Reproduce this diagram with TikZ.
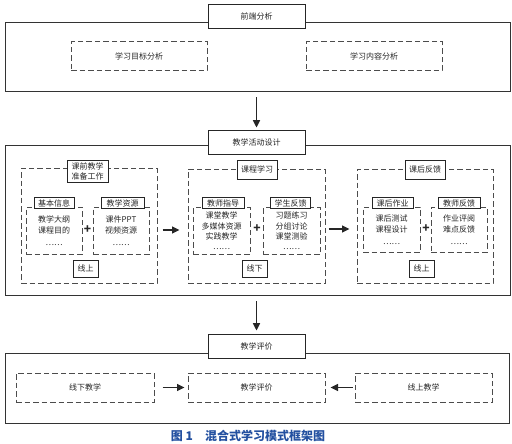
\documentclass[tikz,border=0pt]{standalone}
\usepackage{fontspec}
\setmainfont{Noto Sans CJK SC}
\usetikzlibrary{arrows.meta}

\tikzset{
    frame/.style={draw=black!80, line width=0.8pt, minimum width=505pt},
    tag/.style={draw=black!85, fill=white, line width=0.8pt, inner sep=1pt, align=center},
    dashbox/.style={draw=black!70, line width=1pt, dash pattern=on 5.5pt off 3pt, align=center, inner sep=1pt},
    flow/.style={-{Triangle[length=7.5pt,width=7pt]}, line width=1.6pt, black!85},
    plus/.style={font=\bfseries\fontsize{12}{12}\selectfont, inner sep=0pt},
}
\definecolor{captionblue}{RGB}{35,80,160}

\begin{document}
\begin{tikzpicture}[x=1pt, y=-1pt, font=\fontsize{8}{11.5}\selectfont, text=black!85]
    \useasboundingbox (0,0) rectangle (512,444);

    % front-end analysis
    \node[frame, minimum height=69pt] (front) at (257.5,56.5) {};
    \node[tag, minimum width=97pt, minimum height=24pt] (fronttag) at (256.5,16) {前端分析};
    \node[dashbox, minimum width=136pt, minimum height=29pt] (goal) at (139,56.5) {学习目标分析};
    \node[dashbox, minimum width=136pt, minimum height=29pt] (content) at (374,56.5) {学习内容分析};

    % teaching activity design
    \node[frame, minimum height=150pt] (design) at (257.5,220) {};
    \node[tag, minimum width=97pt, minimum height=24pt] (designtag) at (256.5,142) {教学活动设计};
    \draw[flow, shorten <=6pt, shorten >=2pt] (front.south -| designtag.north) -- (designtag.north);

    % group 1: preparation before class
    \node[dashbox, minimum width=136pt, minimum height=115pt] (pre) at (89,225.5) {};
    \node[tag, minimum width=41pt, minimum height=22pt, font=\fontsize{8}{10}\selectfont] (pretag) at (87.5,171) {课前教学\\准备工作};
    \node[dashbox, minimum width=56pt, minimum height=47pt] (basic) at (54,230.5) {教学大纲\\课程目的\\……};
    \node[tag, minimum width=40pt, minimum height=11pt] (basictag) at (54,203) {基本信息};
    \node[dashbox, minimum width=56pt, minimum height=47pt] (res) at (121,230.5) {课件PPT\\视频资源\\……};
    \node[tag, minimum width=43pt, minimum height=11pt] (restag) at (122.5,203) {教学资源};
    \node[plus] (plus1) at (87.5,230) {+};
    \node[tag, minimum width=25pt, minimum height=17pt] (pretype) at (85.5,268.5) {线上};

    % group 2: course learning
    \node[dashbox, minimum width=137pt, minimum height=114pt] (learn) at (256.5,226) {};
    \node[tag, minimum width=40pt, minimum height=19pt] (learntag) at (257,169.5) {课程学习};
    \node[dashbox, minimum width=57pt, minimum height=47pt, font=\fontsize{8}{10.3}\selectfont] (guide) at (221.5,231) {课堂教学\\多媒体资源\\实践教学\\……};
    \node[tag, minimum width=42pt, minimum height=11pt] (guidetag) at (223,203) {教师指导};
    \node[dashbox, minimum width=57pt, minimum height=47pt, font=\fontsize{8}{10.3}\selectfont] (stufb) at (291.5,231) {习题练习\\分组讨论\\课堂测验\\……};
    \node[tag, minimum width=40pt, minimum height=11pt] (stufbtag) at (290.5,203) {学生反馈};
    \node[plus] (plus2) at (257,229) {+};
    \node[tag, minimum width=25pt, minimum height=17pt] (learntype) at (254.5,268.5) {线下};

    % group 3: feedback after class
    \node[dashbox, minimum width=136pt, minimum height=114pt] (post) at (425,226) {};
    \node[tag, minimum width=40pt, minimum height=19pt] (posttag) at (425,169.5) {课后反馈};
    \node[dashbox, minimum width=57pt, minimum height=45pt] (work) at (391.5,229.5) {课后测试\\课程设计\\……};
    \node[tag, minimum width=41pt, minimum height=11pt] (worktag) at (392.5,203) {课后作业};
    \node[dashbox, minimum width=56pt, minimum height=45pt] (teafb) at (459,229.5) {作业评阅\\难点反馈\\……};
    \node[tag, minimum width=42pt, minimum height=11pt] (teafbtag) at (459,203) {教师反馈};
    \node[plus] (plus3) at (426,229) {+};
    \node[tag, minimum width=25pt, minimum height=17pt] (posttype) at (421.5,268.5) {线上};

    \draw[flow, shorten <=5pt, shorten >=8pt] (pre.east |- plus1) -- (learn.west |- plus1);
    \draw[flow, shorten <=3pt, shorten >=7pt] (learn.east |- plus2) -- (post.west |- plus2);

    % teaching evaluation
    \node[frame, minimum width=504pt, minimum height=70pt] (eval) at (257,388) {};
    \node[tag, minimum width=97pt, minimum height=24pt] (evaltag) at (256.5,346) {教学评价};
    \draw[flow, shorten <=6pt, shorten >=3pt] (design.south -| evaltag.north) -- (evaltag.north);
    \node[dashbox, minimum width=138pt, minimum height=29pt] (offline) at (85,387.5) {线下教学};
    \node[dashbox, minimum width=137pt, minimum height=29pt] (evalmid) at (256.5,387.5) {教学评价};
    \node[dashbox, minimum width=137pt, minimum height=29pt] (online) at (423.5,387.5) {线上教学};
    \draw[flow, shorten <=8pt, shorten >=3pt] (offline.east) -- (evalmid.west);
    \draw[flow, shorten <=2pt, shorten >=5pt] (online.west) -- (evalmid.east);

    % caption
    \node[text=captionblue, font=\bfseries\fontsize{12}{12}\selectfont] (caption) at (248,435.5) {图 1\quad 混合式学习模式框架图};

\end{tikzpicture}
\end{document}
